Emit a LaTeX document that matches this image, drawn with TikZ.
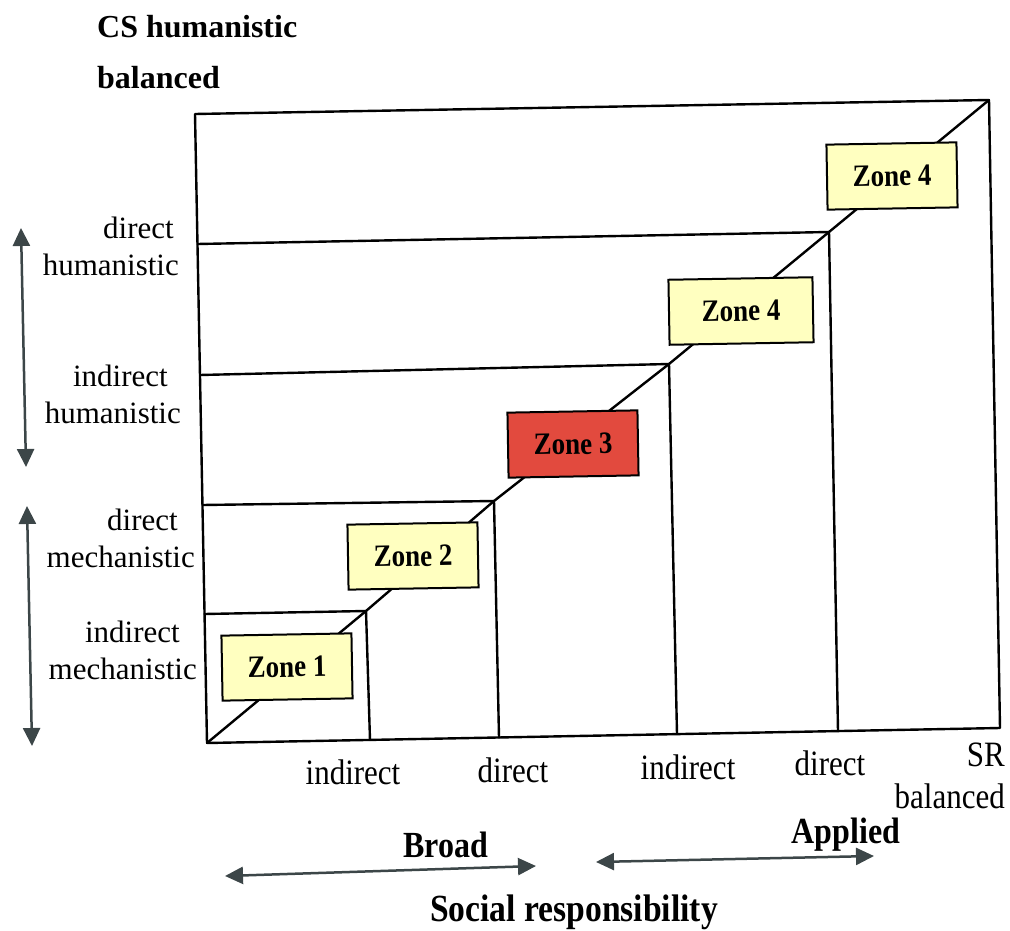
\documentclass[tikz,border=0pt]{standalone}
\usepackage{fontspec}
\setmainfont{Liberation Serif}
\usetikzlibrary{arrows.meta}
\definecolor{zoneyellow}{RGB}{255,255,192}
\definecolor{zonered}{RGB}{226,74,62}
\definecolor{arrowgrey}{RGB}{60,70,72}
\newcommand{\tallbox}[1]{\scalebox{1}[1.15]{#1}}
\begin{document}
\begin{tikzpicture}[x=1pt,y=-1pt,
  grid/.style={line width=2.4pt, line cap=round, line join=round},
  zone/.style={draw=black, line width=2pt, fill=zoneyellow, minimum width=130pt,
    minimum height=65pt, rotate=1, inner sep=0pt,
    font=\fontsize{27}{32}\selectfont\bfseries},
  axislabel/.style={font=\fontsize{31}{37}\selectfont, align=right, anchor=east, inner sep=0pt},
  ticklabel/.style={font=\fontsize{31}{37}\selectfont, inner sep=0pt},
  heading/.style={font=\fontsize{32}{37}\selectfont\bfseries, inner sep=0pt},
  span/.style={draw=arrowgrey, line width=2.5pt,
    {Triangle[length=18pt,width=17pt]}-{Triangle[length=18pt,width=17pt]}}
]
\useasboundingbox (0,0) rectangle (1010,931);

% frame corners
\coordinate (tl) at (195,114);
\coordinate (tr) at (989,100);
\coordinate (br) at (1000,728);
\coordinate (bl) at (207,743);

% grid corners on the diagonal
\coordinate (p4) at (366,611);
\coordinate (p3) at (494,501);
\coordinate (p2) at (669,364);
\coordinate (p1) at (829,232);

% left ends of the horizontal rules
\coordinate (l1) at (197.5,244);
\coordinate (l2) at (200,375);
\coordinate (l3) at (202.5,505);
\coordinate (l4) at (204.5,614);

% feet of the vertical rules
\coordinate (f4) at (370,740);
\coordinate (f3) at (499,737.5);
\coordinate (f2) at (677,734);
\coordinate (f1) at (838,731);

% frame
\draw[grid] (tl) -- (tr) -- (br) -- (bl) -- cycle;

% nested rules
\draw[grid] (l1) -- (p1) -- (f1);
\draw[grid] (l2) -- (p2) -- (f2);
\draw[grid] (l3) -- (p3) -- (f3);
\draw[grid] (l4) -- (p4) -- (f4);

% diagonal
\draw[grid] (bl) -- (p4) -- (p3) -- (p2) -- (p1) -- (tr);

% zones
\node[zone] (z1) at (287,667) {\tallbox{Zone 1}};
\node[zone] (z2) at (413,556) {\tallbox{Zone 2}};
\node[zone, fill=zonered] (z3) at (573,444) {\tallbox{Zone 3}};
\node[zone, minimum width=144pt] (z4) at (741,311) {\tallbox{Zone 4}};
\node[zone] (z5) at (892,176) {\tallbox{Zone 4}};

% vertical axis
\node[heading, anchor=west] (cs) at (97,27) {CS humanistic};
\node[heading, anchor=west] (csb) at (97,78) {balanced};

\node[axislabel] (dh) at (179,246) {direct\hspace*{5pt}\\humanistic};
\node[axislabel] (ih) at (181,394) {indirect\hspace*{13pt}\\humanistic};
\node[axislabel] (dm) at (195,538) {direct\hspace*{17pt}\\mechanistic};
\node[axislabel] (im) at (197,650) {indirect\hspace*{17pt}\\mechanistic};

\coordinate (ha) at (21,228);
\coordinate (hb) at (26,467);
\coordinate (ma) at (27,506);
\coordinate (mb) at (32,746);
\draw[span] (ha) -- (hb);
\draw[span] (ma) -- (mb);

% horizontal axis
\node[ticklabel] (si) at (353,772) {\tallbox{indirect}};
\node[ticklabel] (sd) at (513,770) {\tallbox{direct}};
\node[ticklabel] (ai) at (688,767) {\tallbox{indirect}};
\node[ticklabel] (ad) at (830,763) {\tallbox{direct}};
\node[ticklabel, anchor=east] (srb) at (1005,779)
  {\tallbox{\begin{tabular}{@{}r@{}}SR\\balanced\end{tabular}}};

\node[heading] (broad) at (446,845) {\tallbox{Broad}};
\node[heading] (applied) at (846,835) {\tallbox{Applied}};
\coordinate (ba) at (225,876);
\coordinate (bb) at (536,866);
\coordinate (aa) at (596,862);
\coordinate (ab) at (874,856);
\draw[span] (ba) -- (bb);
\draw[span] (aa) -- (ab);

\node[heading] (sr) at (574,912) {\scalebox{1.05}[1.2]{Social responsibility}};
\end{tikzpicture}
\end{document}
